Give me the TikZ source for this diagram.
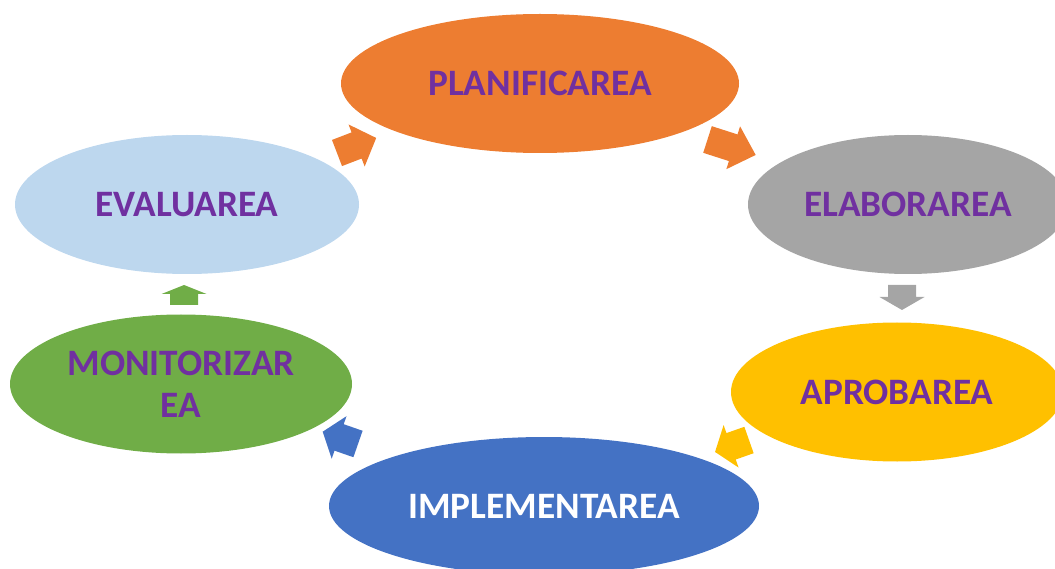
\documentclass[tikz,border=0pt]{standalone}
\usepackage{fontspec}
\setmainfont{Carlito}
\usetikzlibrary{shapes.geometric}
\definecolor{corange}{HTML}{ED7D31}
\definecolor{cgrey}{HTML}{A5A5A5}
\definecolor{cyellow}{HTML}{FFC000}
\definecolor{cblue}{HTML}{4472C4}
\definecolor{cgreen}{HTML}{70AD47}
\definecolor{clight}{HTML}{BDD7EE}
\definecolor{cpurple}{HTML}{7030A0}
% #1 colour, #2 x, #3 y, #4 angle, #5 shaft length, #6 head length
\newcommand{\blockarr}[6]{%
  \fill[#1, shift={(#2,#3)}, rotate=#4]
    (0,-14) -- (#5,-14) -- (#5,-22.5) -- ({#5+#6},0) -- (#5,22.5) -- (#5,14) -- (0,14) -- cycle;}
\begin{document}
\begin{tikzpicture}[x=1pt,y=-1pt,
  phase/.style={ellipse, draw=none, inner sep=0pt, text=cpurple,
    font=\fontsize{37.3}{41.7}\selectfont\bfseries, align=center}]
\useasboundingbox (0,0) rectangle (1055,569);
\clip (0,0) rectangle (1055,569);
\node[phase, fill=corange, minimum width=398pt, minimum height=139pt] (plan) at (540,83.5) {PLANIFICAREA};
\node[phase, fill=cgrey, minimum width=320pt, minimum height=139pt] (elab) at (908,204.5) {ELABORAREA};
\node[phase, fill=cyellow, minimum width=332pt, minimum height=139pt] (aprob) at (897,392) {APROBAREA};
\node[phase, fill=cblue, text=white, minimum width=430pt, minimum height=138pt] (impl) at (544,506) {IMPLEMENTAREA};
\node[phase, fill=cgreen, minimum width=342pt, minimum height=139pt] (monit) at (181,384) {MONITORIZAR\\EA};
\node[phase, fill=clight, minimum width=344pt, minimum height=139pt] (eval) at (187,204.5) {EVALUAREA};
% cycle arrows
\blockarr{corange}{337}{153}{21}{21}{21}
\blockarr{corange}{707.5}{139.5}{-17.8}{27}{23.6}
\blockarr{cgrey}{902}{285}{-90}{12}{13}
\blockarr{cyellow}{749}{440}{199.4}{19}{17}
\blockarr{cblue}{358}{444}{160.8}{20}{17.4}
\blockarr{cgreen}{184}{305}{90}{11}{9}
\end{tikzpicture}
\end{document}
